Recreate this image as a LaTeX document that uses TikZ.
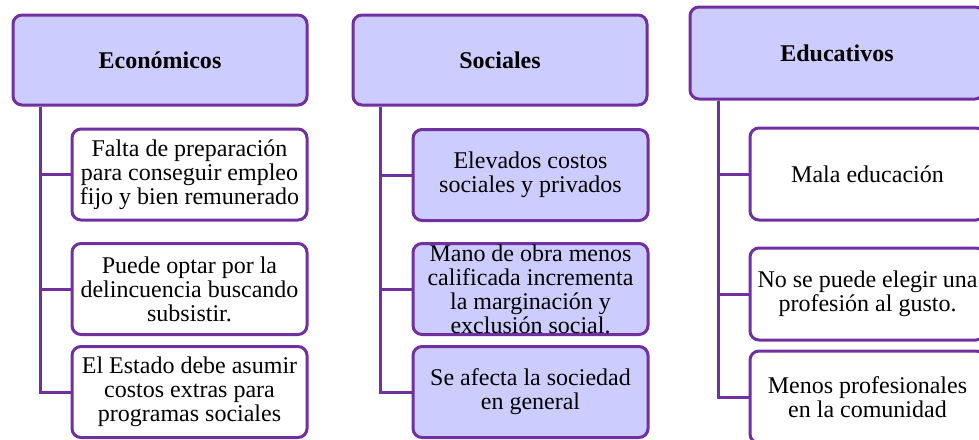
\documentclass[tikz,border=0pt]{standalone}
\usepackage{fontspec}
\setmainfont{LiberationSerif}[Extension=.ttf, UprightFont=*-Regular, BoldFont=*-Bold, ItalicFont=*-Italic, BoldItalicFont=*-BoldItalic]
\definecolor{lila}{HTML}{CCCCFF}
\definecolor{morado}{HTML}{7030A0}
\tikzset{
  box/.style={draw=morado, line width=3pt, rounded corners=9pt, inner sep=0pt},
  headbox/.style={box, fill=lila, minimum width=294pt, minimum height=90pt},
  itembox/.style={box, minimum width=235pt, minimum height=91pt},
  txt/.style={align=center, inner sep=0pt, font=\fontsize{24}{24}\selectfont},
  headtxt/.style={txt, font=\fontsize{24}{24}\selectfont\bfseries},
  link/.style={draw=morado, line width=3pt}
}
\begin{document}
\begin{tikzpicture}[x=1pt,y=-1pt]
\useasboundingbox (0,0) rectangle (979,439);
\clip (0,0) rectangle (979,439);
% Column 1
\node[headbox] (e) at (160,60) {};
\node[headtxt] (et) at (e) {Económicos};
\node[itembox, fill=white] (e1) at (189.5,174.5) {};
\node[txt] (e1t) at (e1) {Falta de preparación\\para conseguir empleo\\fijo y bien remunerado};
\node[itembox, fill=white] (e2) at (189.5,289) {};
\node[txt] (e2t) at (e2) {Puede optar por la\\delincuencia buscando\\subsistir.};
\node[itembox, fill=white] (e3) at (189.5,392) {};
\node[txt] (e3t) at (e3) {El Estado debe asumir\\costos extras para\\programas sociales};
\coordinate (e0) at ([xshift=29pt]e.south west);
\draw[link] (e0) |- (e1.west);
\draw[link] (e0) |- (e2.west);
\draw[link] (e0) |- (e3.west);
% Column 2
\node[headbox] (s) at (500,60) {};
\node[headtxt] (st) at (s) {Sociales};
\node[itembox, fill=lila] (s1) at (530.5,175) {};
\node[txt] (s1t) at (s1) {Elevados costos\\sociales y privados};
\node[itembox, fill=lila] (s2) at (530.5,289) {};
\node[txt] (s2t) at (s2) {Mano de obra menos\\calificada incrementa\\la marginación y\\exclusión social.};
\node[itembox, fill=lila] (s3) at (530.5,392) {};
\node[txt] (s3t) at (s3) {Se afecta la sociedad\\en general};
\coordinate (s0) at ([xshift=29pt]s.south west);
\draw[link] (s0) |- (s1.west);
\draw[link] (s0) |- (s2.west);
\draw[link] (s0) |- (s3.west);
% Column 3
\node[headbox, minimum height=92pt] (d) at (837,53) {};
\node[headtxt] (dt) at (d) {Educativos};
\node[itembox, fill=white, minimum height=92pt] (d1) at (867.5,174) {};
\node[txt] (d1t) at (d1) {Mala educación};
\node[itembox, fill=white, minimum height=92pt] (d2) at (867.5,294) {};
\node[txt] (d2t) at (d2) {No se puede elegir una\\profesión al gusto.};
\node[itembox, fill=white, minimum height=92pt] (d3) at (867.5,397) {};
\node[txt] (d3t) at (d3) {Menos profesionales\\en la comunidad};
\coordinate (d0) at ([xshift=30pt]d.south west);
\draw[link] (d0) |- (d1.west);
\draw[link] (d0) |- (d2.west);
\draw[link] (d0) |- (d3.west);
\end{tikzpicture}
\end{document}
